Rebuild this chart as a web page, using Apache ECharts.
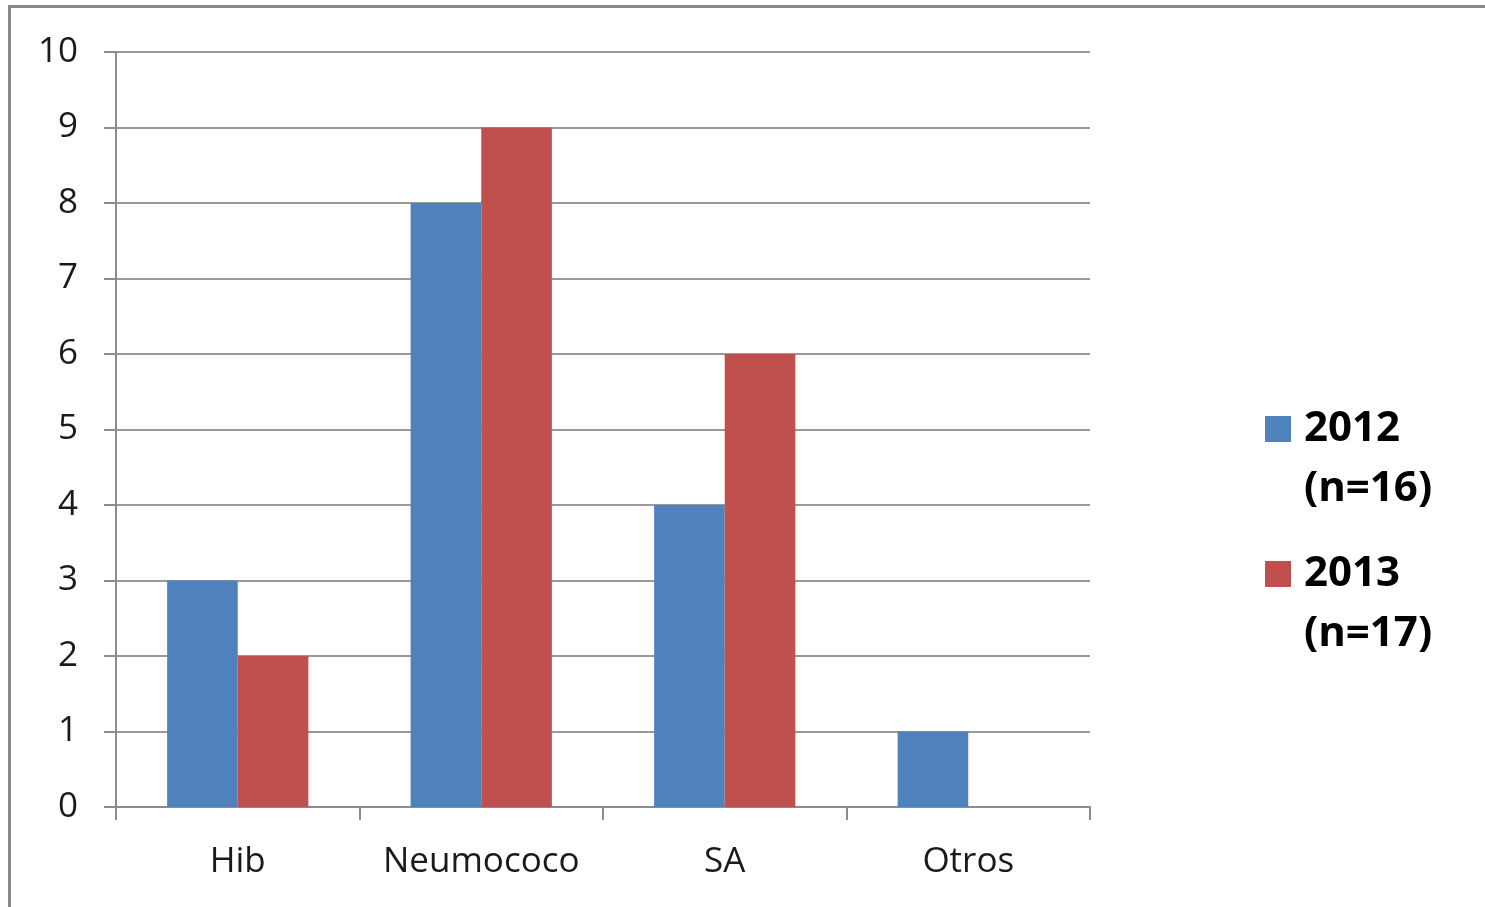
<!DOCTYPE html>
<html>
<head>
<meta charset="utf-8">
<script src="https://cdn.jsdelivr.net/npm/echarts@6/dist/echarts.min.js"></script>
<style>
html,body{margin:0;padding:0;background:#fff;}
#main{width:1485px;height:907px;}
</style>
</head>
<body>
<div id="main"></div>
<script>
const categories = ['Hib', 'Neumococo', 'SA', 'Otros'];
const seriesNames = ['2012', '2013'];
const legendLabels = ['(n=16)', '(n=17)'];
const values2012 = [3, 8, 4, 1];
const values2013 = [2, 9, 6, 0];
const yTicks = { min: 0, max: 10, interval: 1 };

const FONT = 'Open Sans';
const chart = echarts.init(document.getElementById('main'));

function legendFor(i, top) {
  return {
    data: [seriesNames[i]],
    left: 1265,
    top: top,
    orient: 'vertical',
    padding: 0,
    itemWidth: 26,
    itemHeight: 26,
    icon: 'rect',
    formatter: function (name) { return '\u00a0\n' + name + '\n' + legendLabels[i]; },
    textStyle: {
      fontFamily: FONT,
      fontSize: 42,
      fontWeight: 'bold',
      color: '#000',
      lineHeight: 60,
      padding: [0, 0, 0, 8]
    }
  };
}

chart.setOption({
  animation: false,
  backgroundColor: '#fff',
  color: ['#4F81BD', '#C0504D'],
  graphic: [{
    type: 'rect',
    shape: { x: 9.5, y: 6.5, width: 1600, height: 1000 },
    style: { fill: 'none', stroke: '#888888', lineWidth: 3 },
    silent: true
  }],
  grid: { left: 116, top: 52, right: 395, bottom: 100, containLabel: false },
  legend: [legendFor(0, 339), legendFor(1, 484)],
  xAxis: {
    type: 'category',
    data: categories,
    boundaryGap: true,
    axisLine: { show: true, lineStyle: { color: '#8c8c8c', width: 2 } },
    axisTick: { show: true, interval: 0, length: 13, alignWithLabel: false, lineStyle: { color: '#8c8c8c', width: 2 } },
    axisLabel: { interval: 0, fontFamily: FONT, fontSize: 35, color: '#1a1a1a', margin: 38 }
  },
  yAxis: {
    type: 'value',
    min: yTicks.min,
    max: yTicks.max,
    interval: yTicks.interval,
    axisLine: { show: true, lineStyle: { color: '#8c8c8c', width: 2 } },
    axisTick: { show: true, length: 12, lineStyle: { color: '#8c8c8c', width: 2 } },
    splitLine: { show: true, lineStyle: { color: '#999999', width: 2 } },
    axisLabel: { fontFamily: FONT, fontSize: 35, color: '#1a1a1a', margin: 38 }
  },
  series: [
    { name: seriesNames[0], type: 'bar', data: values2012, barGap: '0%', barCategoryGap: '42%' },
    { name: seriesNames[1], type: 'bar', data: values2013, barGap: '0%', barCategoryGap: '42%' }
  ]
});
</script>
</body>
</html>
